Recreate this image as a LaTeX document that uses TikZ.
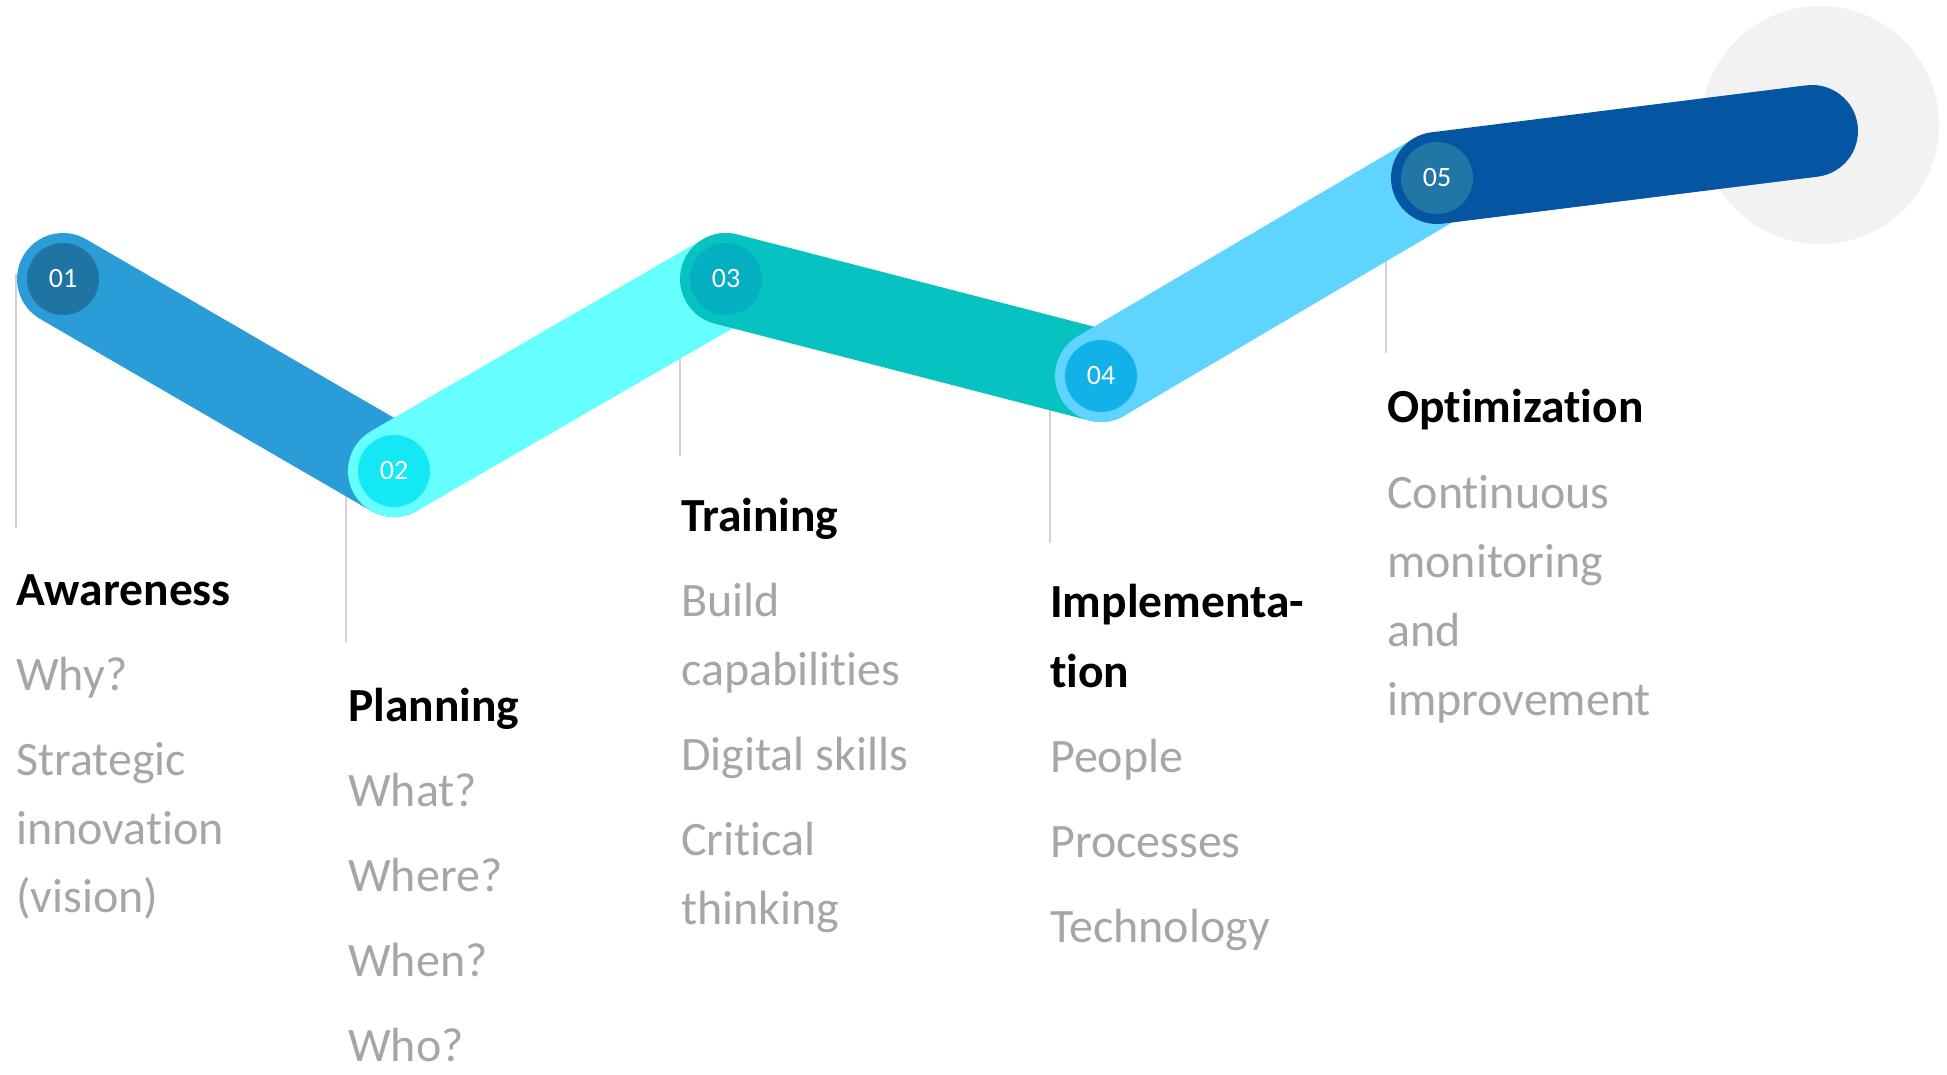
\documentclass[tikz,border=0pt]{standalone}
\usepackage{fontspec}
\setmainfont{Carlito}[Ligatures=NoCommon]
\definecolor{bandA}{HTML}{2A9DD8}
\definecolor{hubA}{HTML}{1F74A3}
\definecolor{bandB}{HTML}{66FFFF}
\definecolor{hubB}{HTML}{13E8F4}
\definecolor{bandC}{HTML}{06C3C1}
\definecolor{hubC}{HTML}{03AFC0}
\definecolor{bandD}{HTML}{5FD4FF}
\definecolor{hubD}{HTML}{12B2E8}
\definecolor{bandE}{HTML}{0456A3}
\definecolor{hubE}{HTML}{2176A5}
\definecolor{halo}{HTML}{F2F2F2}
\definecolor{guidegray}{HTML}{D3D3D3}
\definecolor{itemgray}{HTML}{A6A6A6}
\begin{document}
\begin{tikzpicture}[x=1pt,y=-1pt,
  band/.style={line width=92pt, line cap=round},
  hub/.style={circle, minimum size=72pt, inner sep=0pt, text=white, font=\fontsize{28}{30}\selectfont},
  title/.style={anchor=base west, inner sep=0pt, font=\fontsize{47.5}{52}\selectfont\bfseries, text=black},
  item/.style={anchor=base west, inner sep=0pt, font=\fontsize{48}{56}\selectfont, text=itemgray},
  guide/.style={draw=guidegray, line width=2pt}]
\useasboundingbox (0,0) rectangle (1947,1074);
% halo
\fill[halo] (1820,125) circle (119);
% band centres
\coordinate (c1) at (63,279);
\coordinate (c2) at (394,471);
\coordinate (c3) at (726,279);
\coordinate (c4) at (1101,376);
\coordinate (c5) at (1437,178);
\coordinate (c6) at (1812,131);
% guide lines
\coordinate (g1t) at (16,274);  \coordinate (g1b) at (16,528);
\coordinate (g2t) at (346,471); \coordinate (g2b) at (346,642);
\coordinate (g3t) at (680,279); \coordinate (g3b) at (680,456);
\coordinate (g4t) at (1050,376); \coordinate (g4b) at (1050,543);
\coordinate (g5t) at (1386,178); \coordinate (g5b) at (1386,353);
\draw[guide] (g1t) -- (g1b);
\draw[guide] (g2t) -- (g2b);
\draw[guide] (g3t) -- (g3b);
\draw[guide] (g4t) -- (g4b);
\draw[guide] (g5t) -- (g5b);
% bands and hubs
\draw[band, bandA] (c1) -- (c2);
\node[hub, fill=hubA] (h1) at (c1) {01};
\draw[band, bandB] (c2) -- (c3);
\node[hub, fill=hubB] (h2) at (c2) {02};
\draw[band, bandC] (c3) -- (c4);
\node[hub, fill=hubC] (h3) at (c3) {03};
\draw[band, bandD] (c4) -- (c5);
\node[hub, fill=hubD] (h4) at (c4) {04};
\draw[band, bandE] (c5) -- (c6);
\node[hub, fill=hubE] (h5) at (c5) {05};
% column 1
\node[title] (t1) at (16,605) {Awareness};
\node[item] (t1a) at (16,690) {Why?};
\node[item] (t1b) at (16,775) {Strategic};
\node[item] (t1c) at (16,844) {innovation};
\node[item] (t1d) at (16,912) {(vision)};
% column 2
\node[title] (t2) at (348,721) {Planning};
\node[item] (t2a) at (348,806) {What?};
\node[item] (t2b) at (348,891) {Where?};
\node[item] (t2c) at (348,976) {When?};
\node[item] (t2d) at (348,1061) {Who?};
% column 3
\node[title] (t3) at (681,531) {Training};
\node[item] (t3a) at (681,616) {Build};
\node[item] (t3b) at (681,685) {capabilities};
\node[item] (t3c) at (681,770) {Digital skills};
\node[item] (t3d) at (681,855) {Critical};
\node[item] (t3e) at (681,924) {thinking};
% column 4
\node[title] (t4) at (1050,617) {Implementa-};
\node[title] (t4b) at (1050,687) {tion};
\node[item] (t4a) at (1050,772) {People};
\node[item] (t4c) at (1050,857) {Processes};
\node[item] (t4d) at (1050,942) {Technology};
% column 5
\node[title] (t5) at (1387,422) {Optimization};
\node[item] (t5a) at (1387,508) {Continuous};
\node[item] (t5b) at (1387,577) {monitoring};
\node[item] (t5c) at (1387,646) {and};
\node[item] (t5d) at (1387,715) {improvement};
\end{tikzpicture}
\end{document}
